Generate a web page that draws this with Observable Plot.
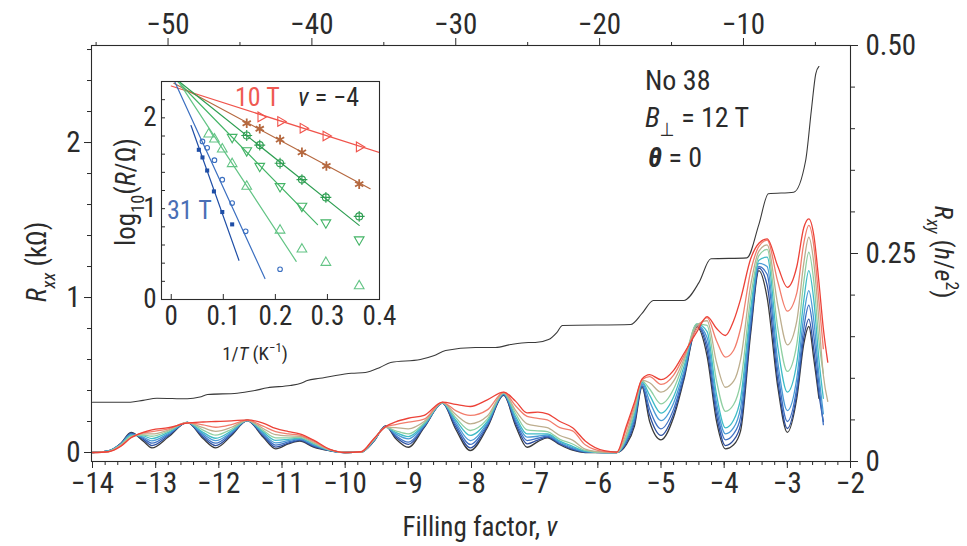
<!DOCTYPE html>
<html><head><meta charset="utf-8">
<script src="https://cdn.jsdelivr.net/npm/d3@7"></script>
<script src="https://cdn.jsdelivr.net/npm/@observablehq/plot@0.6"></script>
<style>
body{margin:0;background:#fff;}
#wrap{position:relative;width:967px;height:546px;overflow:hidden;background:#fff;}
#wrap svg{position:absolute;left:0;top:0;overflow:visible;}
</style></head><body><div id="wrap"></div>
<script>
// ---------- main panel data ----------
const nuGrid = [-14,-13.75,-13.55,-13.39,-13.2,-13.06,-12.8,-12.5,-12.25,-12.05,-11.8,-11.55,-11.3,-11.1,-10.9,-10.72,-10.5,-10.25,-10,-9.75,-9.55,-9.36,-9.2,-9,-8.75,-8.46,-8.25,-8.02,-7.75,-7.49,-7.3,-7.12,-6.95,-6.8,-6.6,-6.4,-6.2,-5.9,-5.7,-5.55,-5.42,-5.3,-5.18,-5,-4.8,-4.64,-4.43,-4.27,-4.12,-3.98,-3.85,-3.74,-3.58,-3.45,-3.32,-3.15,-3,-2.85,-2.74,-2.66,-2.58,-2.5,-2.43,-2.36];
const rxxT1 = [0,0.01,0.06,0.129,0.075,0.03,0.1,0.194,0.09,0.03,0.11,0.206,0.1,0.024,0.055,0.073,0.035,0.012,0,0.002,0.07,0.172,0.09,0.034,0.16,0.318,0.15,0.013,0.16,0.368,0.17,0.034,0.07,0.095,0.05,0.015,0,0,0,0.05,0.17,0.42,0.2,0.082,0.228,0.465,0.81,0.62,0.2,0.024,0.05,0.14,0.77,1.174,1.0,0.42,0.13,0.35,0.7,0.813,0.6,0.35,null,null];
const rxxT2 = [0,0.01,0.058,0.125,0.085,0.045,0.108,0.194,0.1,0.045,0.117,0.206,0.108,0.035,0.06,0.078,0.04,0.013,0,0.002,0.072,0.17,0.1,0.052,0.165,0.318,0.165,0.03,0.17,0.372,0.185,0.056,0.08,0.1,0.055,0.02,0.002,0,0,0.06,0.19,0.43,0.24,0.11,0.25,0.48,0.815,0.66,0.24,0.045,0.08,0.18,0.8,1.19,1.08,0.46,0.155,0.38,0.74,0.86,0.66,0.38,0.2,null];
const rxxT3 = [0,0.01,0.056,0.12,0.093,0.06,0.115,0.194,0.11,0.06,0.124,0.207,0.116,0.048,0.068,0.083,0.045,0.014,0,0.002,0.074,0.168,0.11,0.067,0.17,0.319,0.18,0.052,0.18,0.375,0.2,0.077,0.092,0.106,0.06,0.025,0.004,0,0,0.07,0.21,0.44,0.28,0.153,0.28,0.5,0.82,0.7,0.28,0.082,0.12,0.23,0.84,1.2,1.15,0.52,0.2,0.42,0.8,0.95,0.75,0.44,0.18,null];
const rxxT4 = [0,0.01,0.054,0.115,0.1,0.075,0.122,0.194,0.12,0.077,0.131,0.207,0.124,0.062,0.076,0.088,0.05,0.015,0,0.002,0.076,0.166,0.12,0.088,0.176,0.32,0.195,0.077,0.19,0.378,0.215,0.099,0.105,0.113,0.066,0.032,0.006,0,0,0.08,0.23,0.45,0.33,0.206,0.32,0.52,0.825,0.74,0.32,0.12,0.16,0.29,0.88,1.22,1.2,0.58,0.27,0.48,0.88,1.045,0.85,0.5,0.25,null];
const rxxT5 = [0,0.01,0.052,0.11,0.107,0.09,0.13,0.194,0.13,0.092,0.14,0.208,0.133,0.078,0.085,0.093,0.055,0.016,0,0.002,0.078,0.164,0.13,0.103,0.182,0.321,0.21,0.11,0.2,0.381,0.23,0.12,0.12,0.12,0.073,0.04,0.009,0,0,0.09,0.25,0.455,0.37,0.254,0.36,0.55,0.83,0.78,0.37,0.159,0.21,0.35,0.93,1.24,1.26,0.68,0.39,0.58,0.98,1.174,0.98,0.6,0.35,null];
const rxxT6 = [0,0.008,0.05,0.105,0.113,0.105,0.138,0.194,0.145,0.112,0.15,0.208,0.143,0.095,0.095,0.098,0.06,0.017,0,0.002,0.08,0.163,0.14,0.12,0.19,0.322,0.225,0.142,0.215,0.384,0.25,0.146,0.14,0.135,0.085,0.055,0.014,0,0,0.1,0.27,0.46,0.41,0.314,0.41,0.58,0.83,0.82,0.46,0.266,0.31,0.45,1.0,1.27,1.31,0.8,0.523,0.7,1.1,1.292,1.1,0.72,0.51,null];
const rxxT7 = [0,0.006,0.047,0.1,0.12,0.12,0.145,0.193,0.16,0.137,0.163,0.208,0.155,0.115,0.107,0.105,0.066,0.018,0,0.002,0.082,0.163,0.16,0.153,0.2,0.323,0.245,0.185,0.235,0.386,0.27,0.185,0.17,0.16,0.11,0.08,0.022,0.002,0,0.12,0.29,0.465,0.45,0.389,0.46,0.6,0.82,0.85,0.58,0.421,0.46,0.6,1.08,1.3,1.34,0.95,0.695,0.85,1.22,1.389,1.22,0.85,0.5,0.33];
const rxxT8 = [0,0.005,0.044,0.097,0.126,0.135,0.153,0.192,0.178,0.163,0.18,0.209,0.17,0.135,0.12,0.112,0.073,0.02,0,0.003,0.085,0.165,0.18,0.196,0.215,0.324,0.27,0.239,0.275,0.388,0.3,0.233,0.22,0.21,0.16,0.14,0.05,0.006,0.001,0.15,0.31,0.47,0.49,0.44,0.5,0.62,0.8,0.87,0.72,0.615,0.66,0.8,1.17,1.33,1.37,1.1,0.912,1.03,1.35,1.465,1.33,0.98,0.67,null];
const rxxT9 = [0,0.005,0.04,0.095,0.13,0.146,0.16,0.19,0.197,0.2,0.204,0.21,0.19,0.155,0.135,0.12,0.08,0.022,0,0.005,0.088,0.168,0.198,0.221,0.24,0.325,0.31,0.297,0.34,0.389,0.33,0.256,0.26,0.25,0.2,0.16,0.075,0.012,0.003,0.17,0.325,0.475,0.503,0.47,0.53,0.637,0.78,0.877,0.8,0.755,0.85,0.99,1.25,1.35,1.379,1.2,1.066,1.2,1.45,1.508,1.4,1.1,0.8,0.583];
const curveNames = ["T1","T2","T3","T4","T5","T6","T7","T8","T9"];
const curveColors = ["#3b3b3b","#2d4f9e","#3f72c4","#4a9bd6","#3fbcc6","#8fcfa2","#bdae8e","#f27d6c","#ec4238"];

const rxyNu = [-14,-13.4,-13.2,-12.98,-12.5,-12.3,-12.18,-11.71,-11.45,-11.23,-10.87,-10.7,-10.6,-10.4,-10.15,-9.9,-9.68,-9.45,-9.28,-8.81,-8.6,-8.41,-7.94,-7.75,-7.62,-7.38,-7.1,-6.99,-6.78,-6.65,-6.56,-5.48,-5.3,-5.12,-4.64,-4.4,-4.21,-3.64,-3.45,-3.3,-2.9,-2.71,-2.62,-2.55,-2.5];
const rxyVal = [0.0713,0.0713,0.0735,0.0761,0.0754,0.0775,0.0805,0.0821,0.085,0.0886,0.0913,0.094,0.0974,0.1,0.1034,0.106,0.107,0.113,0.119,0.1226,0.127,0.1334,0.137,0.137,0.137,0.1406,0.143,0.143,0.1466,0.155,0.1635,0.1647,0.178,0.1935,0.1935,0.215,0.2436,0.2448,0.285,0.3218,0.3237,0.3618,0.4219,0.466,0.4748];

const xMajor = [-14,-13,-12,-11,-10,-9,-8,-7,-6,-5,-4,-3,-2];
const xMinor = d3.range(-14, -1.99, 0.2);
const yMajor = [0,1,2];
const yMinor = d3.range(0, 2.61, 0.2);
const rMajor = [0,0.25,0.5];
const rMinor = d3.range(0, 0.501, 0.05);
const topMajor = [-50,-40,-30,-20,-10];
const topMinor = [-55,-45,-35,-25,-15,-5];

// ---------- inset data ----------
const insetNames = ["S10T","S2","S3","S4","S5","S6","S31T"];
const insetColors = ["#f0534b","#b5683f","#2e9e52","#43b466","#63c485","#3b6fc0","#1f4ea6"];
const fitX0 = [0.0,0.005,0.015,0.0126,0.015,0.0065,0.038];
const fitY0 = [2.35,2.38,2.4,2.4,2.39,2.4,1.915];
const fitX1 = [0.4,0.382,0.361,0.281,0.240,0.18,0.130];
const fitY1 = [1.617,1.22,0.816,0.824,0.42,0.231,0.432];
const ptRedX = [0.172,0.210,0.253,0.297,0.361];
const ptRedY = [2.01,1.96,1.886,1.80,1.68];
const ptBrownX = [0.145,0.170,0.209,0.251,0.298,0.361];
const ptBrownY = [1.94,1.88,1.76,1.62,1.47,1.27];
const ptDkGreenX = [0.145,0.170,0.209,0.251,0.297,0.361];
const ptDkGreenY = [1.805,1.70,1.50,1.32,1.124,0.915];
const ptGreenX = [0.117,0.145,0.170,0.209,0.251,0.297,0.361];
const ptGreenY = [1.787,1.64,1.468,1.245,1.029,0.846,0.659];
const ptLtGreenX = [0.072,0.083,0.098,0.117,0.145,0.209,0.251,0.297,0.361];
const ptLtGreenY = [1.82,1.765,1.655,1.494,1.245,0.762,0.553,0.407,0.149];
const ptBlueX = [0.060,0.069,0.083,0.098,0.117,0.143,0.209];
const ptBlueY = [1.74,1.67,1.534,1.319,1.062,0.751,0.333];
const ptDkBlueX = [0.053,0.060,0.069,0.082,0.098,0.117];
const ptDkBlueY = [1.648,1.564,1.42,1.19,0.963,0.827];
const insetXTicks = [0,0.1,0.2,0.3,0.4];
const insetYTicks = [0,1,2];
const insetYMinor = d3.range(0, 2.41, 0.2);

// ---------- build ----------
const FONT = '"Liberation Sans Narrow","Roboto Condensed","DejaVu Sans Condensed","Open Sans",sans-serif';
const INK = "#2b2b2b";
const TICK_FS = 29;
const wrap = d3.select("#wrap");
const W = 967, H = 546;
const M = {marginLeft: 91, marginRight: 117, marginTop: 45, marginBottom: 85};
const baseStyle = {background: "transparent", fontFamily: FONT, fontSize: TICK_FS + "px", color: INK, overflow: "visible"};

const rxxSeries = [rxxT1,rxxT2,rxxT3,rxxT4,rxxT5,rxxT6,rxxT7,rxxT8,rxxT9];
const rxxRows = [];
rxxSeries.forEach((arr, i) => arr.forEach((v, j) => { if (v != null) rxxRows.push({nu: nuGrid[j], r: v, c: curveNames[i]}); }));
const rxyRows = rxyNu.map((nu, i) => ({nu, v: rxyVal[i]}));
const xDom = [-14.016, -2];
const intFmt = d => String(d);

const mainPlot = Plot.plot({
  width: W, height: H, ...M, style: baseStyle,
  x: {domain: xDom}, y: {domain: [-0.058, 2.626]},
  color: {domain: curveNames, range: curveColors},
  marks: [
    Plot.line(rxxRows, {x: "nu", y: "r", z: "c", stroke: "c", curve: "monotone-x", strokeWidth: 1.3}),
    Plot.frame({stroke: INK, strokeWidth: 1.1}),
    Plot.axisX({ticks: xMajor, tickSize: 7, tickPadding: 4, label: null}),
    Plot.axisX({ticks: xMinor, tickSize: 4, tickFormat: () => "", label: null}),
    Plot.axisY({ticks: yMajor, tickSize: 7, tickPadding: 4, label: null, tickFormat: intFmt}),
    Plot.axisY({ticks: yMinor, tickSize: 4, tickFormat: () => "", label: null})
  ]
});
wrap.node().appendChild(mainPlot);

const rxyPlot = Plot.plot({
  width: W, height: H, ...M, style: baseStyle,
  x: {domain: xDom, axis: null}, y: {domain: [0, 0.5]},
  marks: [
    Plot.line(rxyRows, {x: "nu", y: "v", curve: "monotone-x", stroke: "#3a3a3a", strokeWidth: 1.1}),
    Plot.axisY({anchor: "right", ticks: rMajor, tickSize: 7, tickPadding: 8, label: null,
      tickFormat: d => d === 0 ? "0" : d3.format(".2f")(d)}),
    Plot.axisY({anchor: "right", ticks: rMinor, tickSize: 4, tickFormat: () => "", label: null})
  ]
});
wrap.node().appendChild(rxyPlot);

const topPlot = Plot.plot({
  width: W, height: H, ...M, style: baseStyle,
  x: {domain: [-55.32, -2.56]},
  marks: [
    Plot.axisX({anchor: "top", ticks: topMajor, tickSize: 8, tickPadding: 4, label: null}),
    Plot.axisX({anchor: "top", ticks: topMinor, tickSize: 4, tickFormat: () => "", label: null})
  ]
});
wrap.node().appendChild(topPlot);

// inset
const fitRows = [];
insetNames.forEach((n, i) => { fitRows.push({x: fitX0[i], y: fitY0[i], s: n}); fitRows.push({x: fitX1[i], y: fitY1[i], s: n}); });
const pts = (X, Y) => X.map((x, i) => ({x, y: Y[i]}));
const IL = 100, IT = 60;
const insetPlot = Plot.plot({
  width: 300, height: 310, marginLeft: 61, marginTop: 21, marginRight: 21, marginBottom: 71,
  style: {...baseStyle, fontSize: "27px"},
  x: {domain: [-0.0187, 0.4]}, y: {domain: [0, 2.4]},
  color: {domain: insetNames, range: insetColors},
  marks: [
    Plot.frame({fill: "white", stroke: null}),
    Plot.line(fitRows, {x: "x", y: "y", z: "s", stroke: "s", strokeWidth: 1.2, clip: true}),
    Plot.dot(pts(ptRedX, ptRedY), {x: "x", y: "y", symbol: "triangle", rotate: 90, r: 3.6, stroke: insetColors[0], strokeWidth: 1.1}),
    Plot.dot(pts(ptBrownX, ptBrownY), {x: "x", y: "y", symbol: "asterisk", r: 4.5, stroke: insetColors[1], strokeWidth: 1.8}),
    Plot.dot(pts(ptDkGreenX, ptDkGreenY), {x: "x", y: "y", symbol: "circle", r: 3.5, stroke: insetColors[2], strokeWidth: 1.1}),
    Plot.dot(pts(ptDkGreenX, ptDkGreenY), {x: "x", y: "y", symbol: "plus", r: 3.6, stroke: insetColors[2], strokeWidth: 1.1}),
    Plot.dot(pts(ptGreenX, ptGreenY), {x: "x", y: "y", symbol: "triangle", rotate: 180, r: 3.6, stroke: insetColors[3], strokeWidth: 1.1}),
    Plot.dot(pts(ptLtGreenX, ptLtGreenY), {x: "x", y: "y", symbol: "triangle", r: 3.6, stroke: insetColors[4], strokeWidth: 1.1}),
    Plot.dot(pts(ptBlueX, ptBlueY), {x: "x", y: "y", symbol: "circle", r: 2.3, stroke: insetColors[5], strokeWidth: 1.1}),
    Plot.dot(pts(ptDkBlueX, ptDkBlueY), {x: "x", y: "y", symbol: "square", r: 2.3, fill: insetColors[6]}),
    Plot.frame({stroke: INK, strokeWidth: 1.1}),
    Plot.axisX({ticks: insetXTicks, tickSize: 0, tickPadding: 6, label: null, tickFormat: d => d === 0 ? "0" : d3.format(".1f")(d)}),
    Plot.axisX({ticks: insetXTicks, tickSize: -5, tickFormat: () => "", label: null}),
    Plot.axisY({ticks: insetYTicks, tickSize: 0, tickPadding: 5, label: null, tickFormat: intFmt}),
    Plot.axisY({ticks: insetYMinor, tickSize: -4, tickFormat: () => "", label: null})
  ]
});
d3.select(insetPlot).style("left", IL + "px").style("top", IT + "px");
wrap.node().appendChild(insetPlot);

// ---------- annotations (real text) ----------
const ann = wrap.append("svg").attr("width", W).attr("height", H).attr("font-family", FONT).attr("fill", INK);
function rich(x, y, parts, {anchor = "start", rotate = 0, size = 22, fill = INK} = {}) {
  const t = ann.append("text").attr("transform", `translate(${x},${y}) rotate(${rotate})`)
    .attr("text-anchor", anchor).attr("font-size", size).attr("fill", fill);
  let shift = 0;
  for (const p of parts) {
    const [s, o] = Array.isArray(p) ? p : [p, {}];
    const target = o.sub ? size * 0.32 : o.sup ? -size * 0.42 : 0;
    const ts = t.append("tspan").text(s).attr("dy", target - shift);
    shift = target;
    if (o.italic) ts.attr("font-style", "italic");
    if (o.bold) ts.attr("font-weight", "bold");
    if (o.sub || o.sup) ts.attr("font-size", size * 0.68);
  }
}
rich(46, 262, [["R", {italic: true}], ["xx", {italic: true, sub: true}], " (kΩ)"], {anchor: "middle", rotate: -90, size: 27});
rich(935, 252, [["R", {italic: true}], ["xy", {italic: true, sub: true}], " (", ["h", {italic: true}], "/", ["e", {italic: true}], ["2", {sup: true}], ")"], {anchor: "middle", rotate: 90, size: 26});
rich(480, 536, ["Filling factor, ", ["ν", {italic: true}]], {anchor: "middle", size: 27});
rich(645, 90, ["No 38"], {size: 28});
rich(645, 127, [["B", {italic: true}], ["⊥", {sub: true}], " = 12 T"], {size: 28});
rich(648, 167, [["θ", {italic: true, bold: true}], " = 0"], {size: 28});
rich(235, 106, ["10 T"], {size: 26, fill: "#ef5a52"});
rich(298, 106, [["ν", {italic: true}], " = −4"], {size: 26});
rich(167, 219, ["31 T"], {size: 26, fill: "#4a6fb5"});
rich(135, 192, ["log", ["10", {sub: true}], "(", ["R", {italic: true}], "/Ω)"], {anchor: "middle", rotate: -90, size: 27});
rich(255, 360, ["1/", ["T", {italic: true}], " (K", ["−1", {sup: true}], ")"], {anchor: "middle", size: 19});
</script>
</body></html>
